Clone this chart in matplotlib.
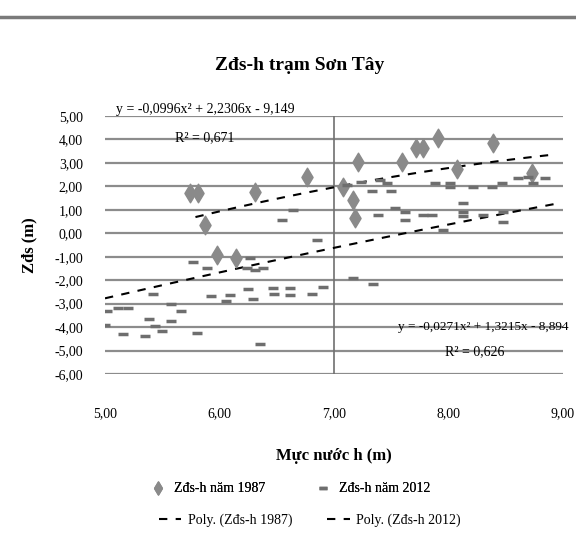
import numpy as np
import matplotlib
matplotlib.use("Agg")
import matplotlib.pyplot as plt
from matplotlib.lines import Line2D

plt.rcParams["font.family"] = ["Liberation Serif", "DejaVu Serif"]

# Zđs-h 1987 (diamonds)
x87 = [5.74, 5.81, 5.87, 5.98, 6.14, 6.31, 6.76, 7.08, 7.17, 7.18, 7.21,
       7.59, 7.72, 7.78, 7.91, 8.07, 8.39, 8.73]
y87 = [1.72, 1.72, 0.34, -0.94, -1.07, 1.76, 2.40, 1.97, 1.42, 0.64, 3.05,
       3.05, 3.65, 3.65, 4.08, 2.75, 3.86, 2.58]

# Zđs-h 2012 (dash markers)
x12 = [5.00, 5.02, 5.11, 5.20, 5.16, 5.35, 5.38, 5.42, 5.44, 5.50, 5.58,
       5.58, 5.66, 5.77, 5.80, 5.89, 5.93, 6.06, 6.09, 6.24, 6.25, 6.27,
       6.29, 6.31, 6.35, 6.38, 6.47, 6.48, 6.55, 6.62, 6.62, 6.64, 6.81,
       6.85, 6.90, 7.11, 7.17, 7.24, 7.33, 7.34, 7.38, 7.40, 7.46, 7.50,
       7.53, 7.62, 7.62, 7.78, 7.86, 7.88, 7.95, 8.01, 8.01, 8.13, 8.13,
       8.13, 8.21, 8.30, 8.38, 8.47, 8.48, 8.48, 8.61, 8.69, 8.74, 8.84]
y12 = [-3.90, -3.30, -3.20, -3.20, -4.30, -4.38, -3.65, -2.58, -3.95, -4.16,
       -3.00, -3.73, -3.30, -1.24, -4.25, -1.46, -2.66, -2.88, -2.62, -1.46,
       -2.36, -1.07, -2.79, -1.55, -4.72, -1.46, -2.32, -2.58, 0.56, -2.32,
       -2.62, 0.99, -2.58, -0.30, -2.27, 2.06, -1.89, 2.19, 1.80, -2.15,
       0.77, 2.27, 2.15, 1.80, 1.07, 0.90, 0.56, 0.77, 0.77, 2.15, 0.13,
       2.15, 1.97, 1.29, 0.90, 0.73, 1.97, 0.77, 1.97, 2.15, 0.90, 0.47,
       2.36, 2.40, 2.15, 2.36]

# polynomial trendlines (coefficients estimated from the drawn curves)
trend87 = [-0.1027, 2.362, -9.542]
range87 = [5.79, 8.91]
trend12 = [-0.0271, 1.4014, -9.103]
range12 = [5.0, 8.98]

yticks = np.arange(-6, 6, 1)
xticks = [5, 6, 7, 8, 9]
eq87 = "y = -0,0996x² + 2,2306x - 9,149"
r87 = "R² = 0,671"
eq12 = "y = -0,0271x² + 1,3215x - 8,894"
r12 = "R² = 0,626"

fig = plt.figure(figsize=(5.76, 5.49), dpi=100)
ax = fig.add_axes([105 / 576, 1 - 374 / 549, (563 - 105) / 576, (374 - 116) / 549])

for yv in yticks:
    ax.axhline(yv, color="#8c8c8c", lw=1.6, zorder=1)
ax.axvline(7, color="#707070", lw=1.2, zorder=1)

h1 = ax.scatter(x87, y87, marker="d", s=90, color="#8a8a8a", zorder=3,
                label="Zđs-h năm 1987")
h2 = ax.scatter(x12, y12, marker="_", s=60, linewidths=2.5, color="#6e6e6e",
                zorder=3, label="Zđs-h năm 2012")

xx = np.linspace(range87[0], range87[1], 100)
h3, = ax.plot(xx, np.polyval(trend87, xx), ls=(0, (4, 4)), color="black",
              lw=1.5, zorder=2, label="Poly. (Zđs-h 1987)")
xx = np.linspace(range12[0], range12[1], 100)
h4, = ax.plot(xx, np.polyval(trend12, xx), ls=(0, (4, 4)), color="black",
              lw=1.5, zorder=2, label="Poly. (Zđs-h 2012)")

ax.set_xlim(5, 9)
ax.set_ylim(-6, 5)
ax.set_xticks(xticks)
ax.set_xticklabels([f"{v:.2f}".replace(".", ",") for v in xticks])
ax.set_yticks(yticks)
ax.set_yticklabels([f"{v:.2f}".replace(".", ",") for v in yticks])
ax.tick_params(axis="x", length=0, pad=24, labelsize=10)
ax.tick_params(axis="y", length=0, pad=16, labelsize=10)
for s in ax.spines.values():
    s.set_visible(False)

ax.set_xlabel("Mực nước h (m)", fontsize=12, fontweight="bold", labelpad=20)
ax.set_ylabel("Zđs (m)", fontsize=12, fontweight="bold", labelpad=12)
fig.text(300 / 576, 1 - 65 / 549, "Zđs-h trạm Sơn Tây", ha="center",
         va="center", fontsize=14, fontweight="bold")

fig.text(205 / 576, 1 - 110 / 549, eq87, ha="center", va="center", fontsize=10)
fig.text(205 / 576, 1 - 138 / 549, r87, ha="center", va="center", fontsize=10)
fig.text(398 / 576, 1 - 327 / 549, eq12, ha="left", va="center", fontsize=9.5)
fig.text(475 / 576, 1 - 352 / 549, r12, ha="center", va="center", fontsize=10)

fig.add_artist(Line2D([0, 1], [1 - 17 / 549] * 2, color="#7a7a7a", lw=2.5))

leg1 = fig.legend([h1, h2], [h1.get_label(), h2.get_label()], loc="center",
                  bbox_to_anchor=(290 / 576, 1 - 488 / 549), ncol=2,
                  frameon=False, fontsize=10, columnspacing=3.5,
                  handlelength=1.2, handletextpad=0.6, markerscale=0.7)
fig.legend([h3, h4], [h3.get_label(), h4.get_label()], loc="center",
           bbox_to_anchor=(310 / 576, 1 - 520 / 549), ncol=2,
           frameon=False, fontsize=10, columnspacing=2.5,
           handlelength=1.6, handletextpad=0.5)
fig.add_artist(leg1)

fig.savefig("out.png", dpi=100, facecolor="white")
